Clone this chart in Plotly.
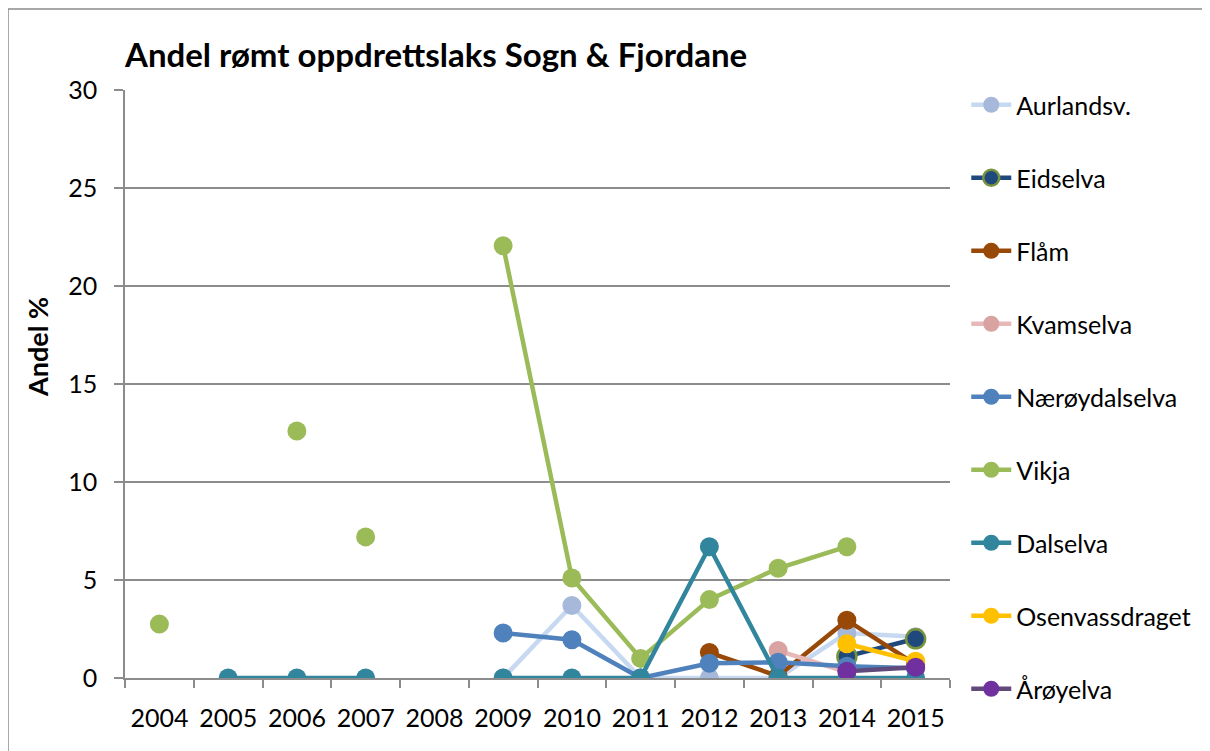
import plotly.graph_objects as go

FONT = 'Lato, "Open Sans", sans-serif'
GRID = '#8C8C8C'

years = [2004, 2005, 2006, 2007, 2008, 2009, 2010, 2011, 2012, 2013, 2014, 2015]

aurlandsv = [None, None, None, None, None, 0, 3.7, 0, 0, 0, 2.3, 2.1]
eidselva = [None, None, None, None, None, None, None, None, None, None, 1.1, 2.0]
flaam = [None, None, None, None, None, None, None, None, 1.3, 0.1, 2.95, 0.7]
kvamselva = [None, None, None, None, None, None, None, None, None, 1.4, 0.3, None]
naeroydalselva = [None, None, None, None, None, 2.3, 1.95, 0, 0.75, 0.8, 0.6, 0.5]
vikja = [2.75, None, 12.6, 7.2, None, 22.05, 5.1, 1.0, 4.0, 5.6, 6.7, None]
dalselva = [None, 0, 0, 0, None, 0, 0, 0, 6.7, 0, 0, 0]
osenvassdraget = [None, None, None, None, None, None, None, None, None, None, 1.75, 0.85]
aroyelva = [None, None, None, None, None, None, None, None, None, None, 0.35, 0.55]

# Vikja: early years are loose points, the line starts in 2009
VIKJA_LINE_FROM = 2009

series = [
    ('Aurlandsv.', aurlandsv, '#C6D9F1', '#A7B9DA', None),
    ('Eidselva', eidselva, '#1F497D', '#1F497D', '#77933C'),
    ('Flåm', flaam, '#984807', '#984807', None),
    ('Kvamselva', kvamselva, '#E6B9B8', '#D9A3A2', None),
    ('Nærøydalselva', naeroydalselva, '#4F81BD', '#4F81BD', None),
    ('Vikja', vikja, '#9BBB59', '#9BBB59', None),
    ('Dalselva', dalselva, '#31859C', '#31859C', None),
    ('Osenvassdraget', osenvassdraget, '#FFC000', '#FFC000', None),
    ('Årøyelva', aroyelva, '#604A7B', '#7030A0', None),
]

# page has an 8px body margin; plot box sits at x 117..942, y 82..670 of the figure
W, H = 1202, 743
L, T, R, B = 117, 82, 942, 670
PW, PH = R - L, B - T

fig = go.Figure()
for name, vals, lc, mc, edge in series:
    mk = dict(size=19, color=mc, line=dict(width=2.5 if edge else 0, color=edge or mc))
    if name == 'Vikja':
        xs = [y for y, v in zip(years, vals) if y < VIKJA_LINE_FROM]
        ys = [v for y, v in zip(years, vals) if y < VIKJA_LINE_FROM]
        fig.add_trace(go.Scatter(x=xs, y=ys, mode='markers', marker=mk, name=name,
                                 legendgroup=name, showlegend=False))
        xs = [y for y in years if y >= VIKJA_LINE_FROM]
        ys = [v for y, v in zip(years, vals) if y >= VIKJA_LINE_FROM]
    else:
        xs, ys = years, vals
    fig.add_trace(go.Scatter(x=xs, y=ys, mode='lines+markers', name=name, legendgroup=name,
                             line=dict(color=lc, width=4.5), marker=mk, connectgaps=False))

fig.update_layout(
    width=W, height=H,
    paper_bgcolor='white', plot_bgcolor='white',
    font=dict(family=FONT, color='black', size=25),
    margin=dict(l=L, r=W - R, t=T, b=H - B),
    title=dict(text='<b>Andel rømt oppdrettslaks Sogn & Fjordane</b>', x=L / W, xanchor='left',
               y=1 - 47 / H, yanchor='middle', font=dict(size=33, family=FONT)),
    xaxis=dict(range=[2003.5, 2015.5], tickvals=years, ticktext=[str(y) for y in years],
               showgrid=False, zeroline=False, showline=True, linecolor=GRID, linewidth=1.5,
               ticks='', ticklabelstandoff=17,
               minor=dict(tickvals=[y - 0.5 for y in years] + [2015.5], ticks='outside',
                          ticklen=8, tickcolor=GRID, tickwidth=1.5, showgrid=False)),
    yaxis=dict(range=[0, 30], dtick=5, showgrid=True, gridcolor=GRID, gridwidth=1.5,
               zeroline=False, showline=True, linecolor=GRID, linewidth=1.5,
               ticks='outside', ticklen=9, tickcolor=GRID, tickwidth=1.5, ticklabelstandoff=12),
    legend=dict(x=1.01 + 8 / PW, xanchor='left', y=1 + 8 / PH, yanchor='top', tracegroupgap=37.5,
                maxheight=1.0, font=dict(size=25, family=FONT), bgcolor='rgba(0,0,0,0)',
                itemwidth=40),
    annotations=[dict(text='<b>Andel %</b>', textangle=-90, xref='paper', yref='paper',
                      x=(29 - L) / PW, y=(B - 339) / PH, xanchor='center', yanchor='middle',
                      showarrow=False, font=dict(size=27, family=FONT))],
    shapes=[dict(type='rect', xref='paper', yref='paper', x0=(0 - L) / PW, x1=(1230 - L) / PW,
                 y0=-0.3, y1=1 + (T - 1) / PH, line=dict(color=GRID, width=1.5))],
)

fig.write_html('out.html')
